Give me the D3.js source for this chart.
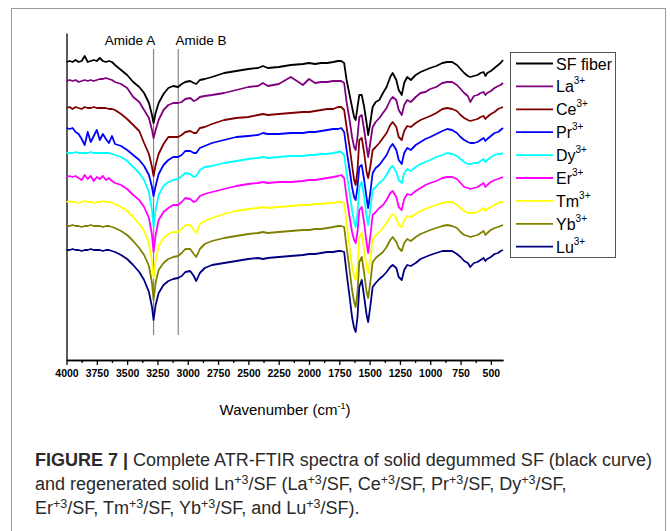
<!DOCTYPE html>
<html lang="en">
<head>
<meta charset="UTF-8">
<title>ATR-FTIR spectra of SF and Ln3+/SF</title>
<script src="https://d3js.org/d3.v7.min.js"></script>
<style>
  body { margin: 0; background: #fff; }
  svg { display: block; }
  .x-axis .tick text { font: bold 10.5px Arial, "Liberation Sans", sans-serif; fill: #000; }
  .x-axis path, .x-axis line, .y-axis path { stroke: #000; stroke-width: 1.3px; }
  .spectrum { fill: none; stroke-width: 1.8px; stroke-linejoin: round; }
  .label { font-family: Arial, "Liberation Sans", sans-serif; fill: #000; }
  .caption { font: 18px "Liberation Sans", Arial, sans-serif; fill: #2a2a2a; }
</style>
</head>
<body>
<script>
// wavenumber grid (cm-1) shared by every spectrum
const wavenumber = [
  4000, 3975, 3950, 3925, 3900, 3875, 3850, 3825, 3800, 3775, 3750, 3725, 3700, 3675, 3650, 3625,
  3600, 3550, 3500, 3450, 3400, 3360, 3320, 3295, 3282, 3265, 3240, 3200, 3160, 3120, 3080, 3050, 3020, 2980, 2950, 2930,
  2900, 2860, 2800, 2700, 2600, 2500, 2420, 2380, 2340, 2250, 2150, 2050, 2000, 1950, 1900, 1850, 1800, 1760, 1735,
  1710, 1690, 1665, 1645, 1628, 1615, 1600, 1585, 1565, 1545, 1525, 1512, 1495, 1475, 1450, 1420, 1390, 1360, 1330, 1310, 1280, 1260, 1235, 1215, 1190, 1160, 1120, 1080,
  1040, 1000, 950, 900, 860, 820, 780, 750, 720, 690, 670, 640, 610, 585, 560, 545, 530, 500, 470, 440, 420, 400
];

// transmittance, stacked (a.u.)
const sfFiber = [
  298, 299, 298, 300, 298, 299, 304, 298, 299, 300, 299, 302, 299, 298, 299, 298,
  295, 290, 285, 278, 273, 267, 257, 245, 237, 247, 257, 266, 272, 274, 273, 276, 278, 279, 277, 276,
  280, 281, 283, 287, 289, 291, 292, 294, 292, 293, 295, 296, 297, 296, 297, 297, 298, 299, 299,
  297, 280, 265, 253, 243, 240, 253, 265, 265, 253, 237, 225, 237, 253, 258, 260, 267, 273, 283, 287, 280, 270, 265, 277, 283, 280, 285, 288,
  290, 292, 294, 297, 298, 298, 295, 291, 287, 284, 283, 284, 285, 287, 288, 284, 287, 289, 292, 295, 297, 300
];
const laSF = [
  279, 280, 279, 280, 278, 279, 280, 279, 280, 279, 280, 281, 281, 282, 281, 280,
  278, 276, 272, 263, 258, 250, 242, 230, 222, 230, 240, 250, 255, 257, 257, 258, 261, 262, 259, 260,
  263, 264, 265, 267, 270, 273, 274, 277, 274, 276, 283, 275, 281, 277, 278, 278, 279, 279, 279,
  277, 258, 240, 223, 213, 210, 223, 243, 245, 230, 213, 203, 217, 233, 238, 242, 247, 252, 260, 263, 260, 250, 245, 255, 260, 258, 263, 267,
  268, 271, 273, 277, 278, 278, 275, 271, 267, 264, 258, 264, 265, 267, 268, 265, 267, 269, 272, 274, 275, 277
];
const ceSF = [
  252, 253, 251, 253, 252, 251, 253, 252, 252, 253, 252, 252, 252, 252, 251, 251,
  250, 246, 241, 235, 229, 217, 206, 193, 184, 195, 206, 216, 223, 223, 223, 225, 228, 229, 227, 227,
  232, 233, 236, 240, 242, 243, 245, 246, 245, 246, 247, 248, 248, 249, 250, 251, 251, 253, 253,
  250, 233, 213, 195, 180, 175, 190, 220, 222, 207, 188, 182, 193, 210, 213, 217, 222, 227, 235, 238, 233, 223, 220, 229, 234, 233, 237, 240,
  242, 244, 247, 251, 252, 251, 249, 245, 242, 240, 239, 240, 241, 243, 244, 241, 243, 246, 248, 251, 252, 253
];
const prSF = [
  232, 231, 232, 228, 226, 221, 215, 228, 218, 224, 230, 220, 226, 221, 217, 224,
  216, 214, 210, 205, 200, 194, 185, 173, 164, 174, 186, 195, 200, 203, 203, 205, 209, 209, 207, 207,
  212, 214, 217, 220, 223, 224, 225, 227, 226, 226, 227, 227, 228, 228, 229, 230, 231, 231, 232,
  228, 210, 190, 173, 163, 160, 173, 193, 195, 180, 162, 152, 167, 187, 192, 195, 200, 205, 213, 216, 210, 200, 196, 207, 212, 210, 215, 218,
  221, 223, 226, 229, 231, 230, 227, 223, 220, 218, 217, 217, 218, 220, 222, 219, 221, 224, 227, 228, 230, 232
];
const dySF = [
  207, 207, 207, 208, 207, 207, 207, 207, 208, 207, 207, 207, 207, 207, 207, 206,
  205, 203, 199, 193, 187, 180, 168, 150, 133, 150, 165, 174, 178, 180, 181, 184, 187, 186, 183, 184,
  190, 193, 194, 197, 199, 201, 202, 203, 202, 203, 204, 204, 205, 205, 206, 206, 207, 208, 208,
  205, 187, 167, 150, 138, 133, 147, 173, 178, 163, 143, 135, 150, 170, 173, 177, 180, 185, 192, 194, 188, 180, 177, 187, 191, 189, 193, 196,
  198, 200, 203, 205, 207, 206, 204, 201, 198, 196, 196, 197, 197, 199, 201, 198, 200, 203, 205, 206, 206, 207
];
const erSF = [
  183, 184, 183, 184, 182, 180, 185, 181, 184, 179, 183, 181, 184, 180, 182, 179,
  177, 175, 171, 165, 160, 153, 142, 125, 108, 125, 140, 148, 152, 155, 155, 158, 162, 161, 158, 159,
  164, 166, 168, 171, 174, 176, 177, 178, 177, 178, 178, 179, 180, 180, 181, 182, 183, 184, 185,
  182, 163, 143, 128, 120, 117, 128, 150, 153, 137, 117, 107, 123, 145, 148, 152, 155, 160, 167, 169, 163, 153, 150, 161, 166, 165, 169, 172,
  175, 177, 179, 182, 183, 183, 181, 177, 173, 172, 171, 172, 173, 175, 177, 173, 175, 178, 180, 181, 182, 183
];
const tmSF = [
  158, 159, 158, 158, 157, 158, 159, 158, 158, 157, 158, 158, 159, 158, 158, 157,
  156, 153, 149, 143, 136, 129, 117, 98, 82, 99, 114, 122, 126, 128, 128, 131, 135, 135, 130, 127,
  136, 139, 142, 146, 149, 151, 152, 153, 152, 153, 154, 155, 155, 156, 156, 157, 157, 158, 158,
  157, 137, 113, 93, 83, 80, 93, 123, 127, 110, 93, 87, 100, 120, 125, 128, 132, 137, 143, 146, 142, 135, 133, 140, 144, 143, 146, 149,
  151, 153, 155, 157, 158, 158, 155, 152, 149, 147, 147, 147, 148, 150, 152, 149, 151, 153, 155, 157, 158, 158
];
const ybSF = [
  134, 134, 135, 134, 134, 133, 134, 134, 135, 134, 134, 134, 133, 134, 134, 133,
  132, 129, 125, 119, 112, 105, 94, 77, 60, 77, 90, 97, 101, 103, 104, 107, 111, 111, 106, 103,
  111, 116, 119, 122, 124, 126, 127, 128, 127, 128, 129, 130, 130, 131, 131, 132, 133, 134, 134,
  133, 113, 90, 70, 58, 53, 68, 98, 103, 87, 68, 62, 77, 98, 102, 105, 108, 113, 120, 123, 118, 112, 109, 117, 121, 119, 123, 126,
  128, 130, 132, 134, 135, 134, 132, 128, 125, 124, 123, 124, 125, 127, 129, 125, 127, 130, 132, 133, 134, 135
];
const luSF = [
  110, 110, 111, 110, 110, 109, 110, 110, 111, 110, 110, 110, 109, 110, 110, 109,
  108, 105, 101, 95, 88, 80, 68, 53, 40, 55, 67, 75, 79, 81, 82, 84, 88, 89, 84, 79,
  87, 92, 95, 97, 99, 101, 102, 101, 102, 103, 104, 105, 106, 106, 107, 108, 108, 109, 109,
  108, 87, 63, 43, 32, 28, 43, 73, 80, 63, 45, 38, 53, 73, 77, 81, 84, 88, 93, 95, 92, 83, 80, 90, 95, 94, 97, 101,
  103, 105, 107, 109, 109, 109, 106, 103, 99, 97, 93, 97, 98, 100, 102, 99, 101, 103, 106, 107, 109, 110
];

const seriesNames = ["SF fiber", "La", "Ce", "Pr", "Dy", "Er", "Tm", "Yb", "Lu"];
const seriesValues = [sfFiber, laSF, ceSF, prSF, dySF, erSF, tmSF, ybSF, luSF];
const seriesColors = ["#000000", "#800080", "#800000", "#0000ff", "#00ffff", "#ff00ff", "#ffff00", "#808000", "#000080"];

const majorTicks = d3.range(4000, 499, -250);
const minorTicks = d3.range(3875, 400, -250);
const amideBands = [{name: "Amide A", wn: 3282}, {name: "Amide B", wn: 3078}];

const W = 670, H = 531;

const svg = d3.select("body").append("svg")
    .attr("width", W)
    .attr("height", H);

// figure frame
svg.append("rect")
    .attr("x", 11.5).attr("y", 8.5)
    .attr("width", 654).attr("height", 560)
    .attr("fill", "none")
    .attr("stroke", "#999")
    .attr("stroke-width", 1);

const x = d3.scaleLinear().domain([4000, 400]).range([66.5, 503]);
const y = d3.scaleLinear().domain([0, 327]).range([360, 33]);

// axes
svg.append("g")
    .attr("class", "x-axis")
    .attr("transform", "translate(0,360)")
    .call(d3.axisBottom(x).tickValues(majorTicks).tickSize(5).tickSizeOuter(0).tickPadding(5).tickFormat(d3.format("d")));

svg.append("g")
    .attr("class", "x-axis")
    .attr("transform", "translate(0,360)")
    .call(d3.axisBottom(x).tickValues(minorTicks).tickSize(3).tickSizeOuter(0).tickFormat(""));

svg.append("g")
    .attr("class", "y-axis")
    .attr("transform", "translate(66.5,0)")
    .call(d3.axisLeft(y).tickValues([]).tickSizeOuter(0));

const xTitle = svg.append("text")
    .attr("class", "label")
    .attr("x", 285).attr("y", 415)
    .attr("text-anchor", "middle")
    .style("font-size", "15px")
    .text("Wavenumber (cm");
xTitle.append("tspan").attr("dy", -6).style("font-size", "9px").text("-1");
xTitle.append("tspan").attr("dy", 6).text(")");

// amide markers
amideBands.forEach(function (b) {
    svg.append("line")
        .attr("x1", x(b.wn)).attr("x2", x(b.wn))
        .attr("y1", 49).attr("y2", 335)
        .attr("stroke", "#888")
        .attr("stroke-width", 1.2);
});
svg.append("text").attr("class", "label")
    .attr("x", 130).attr("y", 45).attr("text-anchor", "middle")
    .style("font-size", "13.5px").text(amideBands[0].name);
svg.append("text").attr("class", "label")
    .attr("x", 201).attr("y", 45).attr("text-anchor", "middle")
    .style("font-size", "13.5px").text(amideBands[1].name);

// spectra
const line = d3.line()
    .x(function (d, i) { return x(wavenumber[i]); })
    .y(function (d) { return y(d); });

seriesValues.forEach(function (vals, k) {
    svg.append("path")
        .attr("class", "spectrum")
        .attr("stroke", seriesColors[k])
        .attr("d", line(vals));
});

// legend
const legend = svg.append("g").attr("transform", "translate(510,52)");
legend.append("rect")
    .attr("x", 0.5).attr("y", 0.5)
    .attr("width", 105).attr("height", 205)
    .attr("fill", "#fff")
    .attr("stroke", "#555");

seriesNames.forEach(function (name, k) {
    const cy = 11.5 + k * 22.9;
    legend.append("line")
        .attr("x1", 6).attr("x2", 43)
        .attr("y1", cy).attr("y2", cy)
        .attr("stroke", seriesColors[k])
        .attr("stroke-width", 1.8);
    const t = legend.append("text")
        .attr("class", "label")
        .attr("x", 46).attr("y", cy + 6)
        .style("font-size", "16px")
        .text(name);
    if (k > 0) {
        t.append("tspan").attr("dy", -8).style("font-size", "10px").text("3+");
    }
});

// caption
const captionLines = [
    [["FIGURE 7 | ", "b"], ["Complete ATR-FTIR spectra of solid degummed SF (black curve)", ""]],
    [["and regenerated solid Ln", ""], ["+3", "s"], ["/SF (La", ""], ["+3", "s"], ["/SF, Ce", ""], ["+3", "s"],
     ["/SF, Pr", ""], ["+3", "s"], ["/SF, Dy", ""], ["+3", "s"], ["/SF,", ""]],
    [["Er", ""], ["+3", "s"], ["/SF, Tm", ""], ["+3", "s"], ["/SF, Yb", ""], ["+3", "s"], ["/SF, and Lu", ""], ["+3", "s"], ["/SF).", ""]]
];

captionLines.forEach(function (parts, li) {
    const t = svg.append("text")
        .attr("class", "caption")
        .attr("x", 35)
        .attr("y", 466 + li * 24);
    parts.forEach(function (p) {
        const s = t.append("tspan").text(p[0]);
        if (p[1] === "b") s.style("font-weight", "bold");
        if (p[1] === "s") s.attr("baseline-shift", "6").style("font-size", "12.5px");
    });
});
</script>
</body>
</html>
